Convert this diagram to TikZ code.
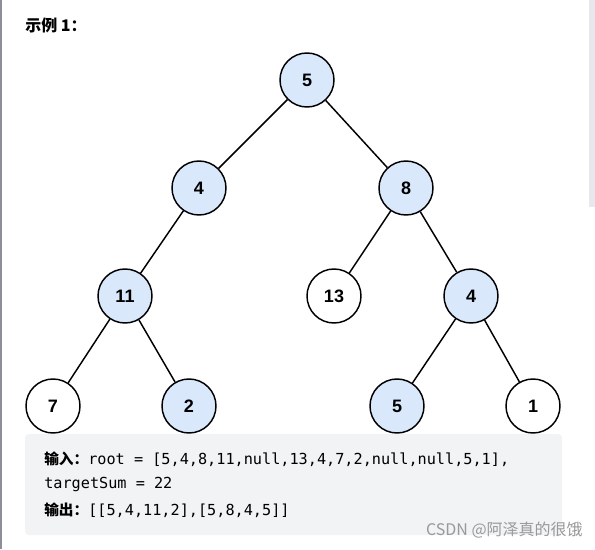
\documentclass[tikz,border=0pt]{standalone}
\usepackage{fontspec}
\setmainfont{Liberation Sans}
\setmonofont{DejaVu Sans Mono}
\newfontfamily\cjk{Noto Sans CJK SC}
\usetikzlibrary{positioning}

\definecolor{nodeblue}{HTML}{DAE8FC}
\definecolor{codegray}{HTML}{F2F3F5}
\definecolor{edgegray}{HTML}{8C8F99}
\definecolor{bargray}{HTML}{E8E8EC}

\begin{document}
\begin{tikzpicture}[
  x=0.75pt,y=-0.75pt,
  tnode/.style={draw,circle,line width=1.1pt,minimum size=40.5pt,inner sep=0pt,font=\bfseries\fontsize{13.5}{14}\selectfont},
  hit/.style={tnode,fill=nodeblue},
  miss/.style={tnode,fill=white},
  link/.style={line width=1.1pt},
  codeline/.style={anchor=west,inner sep=0pt,font=\ttfamily\fontsize{11.4}{12}\selectfont}
]
\useasboundingbox (0,0) rectangle (595,549);
\fill[white] (0,0) rectangle (595,549);
\fill[edgegray] (0,0) rectangle (2,549);
\fill[bargray] (589,0) rectangle (595,207);

\node[anchor=west,inner sep=0pt,font=\cjk\bfseries\fontsize{12}{13}\selectfont] (title) at (25,25) {示例 1：};

% tree
\node[hit] (n5) at (307,80) {5};
\node[hit] (n4) at (199,188) {4};
\node[hit] (n8) at (406,188) {8};
\node[hit] (n11) at (125,296) {11};
\node[miss] (n13) at (334,296) {13};
\node[hit] (n4b) at (471,296) {4};
\node[miss] (n7) at (53,406) {7};
\node[hit] (n2) at (189,406) {2};
\node[hit] (n5b) at (397,406) {5};
\node[miss] (n1) at (533,406) {1};

\draw[link] (n5) -- (n4);
\draw[link] (n5) -- (n8);
\draw[link] (n4) -- (n11);
\draw[link] (n8) -- (n13);
\draw[link] (n8) -- (n4b);
\draw[link] (n11) -- (n7);
\draw[link] (n11) -- (n2);
\draw[link] (n4b) -- (n5b);
\draw[link] (n4b) -- (n1);

% example box
\fill[codegray,rounded corners=3pt] (25,434) rectangle (562,535);
\node[codeline] (inp) at (44,459) {{\cjk\bfseries\fontsize{11}{12}\selectfont 输入：}root = [5,4,8,11,null,13,4,7,2,null,null,5,1],};
\node[codeline] (sum) at (44,484) {targetSum = 22};
\node[codeline] (out) at (44,510) {{\cjk\bfseries\fontsize{11}{12}\selectfont 输出：}[[5,4,11,2],[5,8,4,5]]};

\node[anchor=east,inner sep=0pt,text=black!40,font=\cjk\fontsize{12}{13}\selectfont] (mark) at (583,530) {CSDN @阿泽真的很饿};
\end{tikzpicture}
\end{document}
